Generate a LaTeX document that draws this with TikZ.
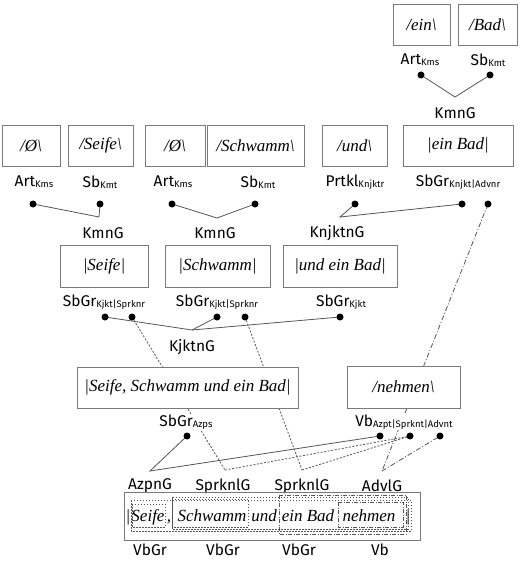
\documentclass[tikz,border=0pt]{standalone}
\usepackage{fontspec}
\setmainfont{Liberation Serif}
\setsansfont{Fira Sans}
\usetikzlibrary{backgrounds}
\definecolor{framegray}{HTML}{7A7A7A}
\definecolor{linkgray}{HTML}{555555}
% category label with a small subscript
\newcommand\catlab[2]{#1\raisebox{-0.8pt}{\fontsize{9.5}{10}\selectfont #2}}
\begin{document}
\begin{tikzpicture}[x=1pt,y=-1pt,
  wbox/.style={draw=framegray,line width=0.9pt,fill=white,minimum height=41,inner sep=0pt,
    font=\itshape\fontsize{17}{20}\selectfont},
  cat/.style={fill=white,inner sep=1pt,font=\sffamily\fontsize{15.5}{17}\selectfont},
  grp/.style={inner sep=1pt,font=\sffamily\fontsize{15.5}{17}\selectfont},
  dot/.style={circle,fill=black,inner sep=0pt,minimum size=7pt},
  link/.style={draw=linkgray,line width=0.8pt},
  dlink/.style={draw=linkgray,line width=0.8pt,dash pattern=on 2pt off 1.6pt},
  ddlink/.style={draw=linkgray,line width=0.8pt,dash pattern=on 5pt off 2pt on 1pt off 2pt},
  word/.style={inner sep=0pt,anchor=base,font=\itshape\fontsize{17}{20}\selectfont},
  fdot/.style={draw=linkgray,line width=0.6pt,dash pattern=on 1.5pt off 1.5pt},
  fdash/.style={draw=linkgray,line width=0.6pt,dash pattern=on 4pt off 1.5pt on 1pt off 1.5pt},
]
\useasboundingbox (0,0) rectangle (521,561);

% ---- top: ein Bad
\node[wbox,minimum width=57] (ein) at (421.5,25) {/ein\textbackslash};
\node[wbox,minimum width=59] (bad) at (487.5,25) {/Bad\textbackslash};
\node[cat] (lein) at (420,60) {\catlab{Art}{Kms}};
\node[cat] (lbad) at (488,60) {\catlab{Sb}{Kmt}};
\node[dot] (pein) at (421,75) {};
\node[dot] (pbad) at (490,75) {};
\coordinate (j0) at (455,97);
\node[grp] (g0) at (455,113) {KmnG};

% ---- second row
\node[wbox,minimum width=58] (b1) at (31,145.5) {/Ø\textbackslash};
\node[wbox,minimum width=65] (b2) at (100.5,145.5) {/Seife\textbackslash};
\node[wbox,minimum width=60] (b3) at (175,145.5) {/Ø\textbackslash};
\node[wbox,minimum width=97] (b4) at (255.5,145.5) {/Schwamm\textbackslash};
\node[wbox,minimum width=65] (b5) at (354.5,145.5) {/und\textbackslash};
\node[wbox,minimum width=110] (b6) at (458,145.5) {|ein Bad|};
\node[cat] (l1) at (34,182) {\catlab{Art}{Kms}};
\node[cat] (l2) at (100,182) {\catlab{Sb}{Kmt}};
\node[cat] (l3) at (173,182) {\catlab{Art}{Kms}};
\node[cat] (l4) at (258,182) {\catlab{Sb}{Kmt}};
\node[cat] (l5) at (355,182) {\catlab{Prtkl}{Knjktr}};
\node[cat] (l6) at (458,182) {\catlab{SbGr}{Knjkt|Advnr}};
\node[dot] (p1) at (33,204) {};
\node[dot] (p2) at (100,204) {};
\node[dot] (p3) at (172,204) {};
\node[dot] (p4) at (255,204) {};
\node[dot] (p5) at (355,204) {};
\node[dot] (p6) at (462,204) {};
\node[dot] (p7) at (488,204) {};
\coordinate (k1) at (99,217);
\coordinate (k2) at (217,218);
\coordinate (k3) at (340,217);
\node[grp] (gk1) at (103,233) {KmnG};
\node[grp] (gk2) at (215,233) {KmnG};
\node[grp] (gk3) at (337,233) {KnjktnG};

% ---- third row
\node[wbox,minimum width=88,minimum height=42] (c1) at (104,266) {|Seife|};
\node[wbox,minimum width=105,minimum height=42] (c2) at (217.5,266) {|Schwamm|};
\node[wbox,minimum width=114,minimum height=42] (c3) at (340,266) {|und ein Bad|};
\node[cat] (m1) at (104,302) {\catlab{SbGr}{Kjkt|Sprknr}};
\node[cat] (m2) at (217,302) {\catlab{SbGr}{Kjkt|Sprknr}};
\node[cat] (m3) at (341,302) {\catlab{SbGr}{Kjkt}};
\node[dot] (q1) at (105,317) {};
\node[dot] (q2) at (132,317) {};
\node[dot] (q3) at (217,317) {};
\node[dot] (q4) at (245,317) {};
\node[dot] (q5) at (340,317) {};
\coordinate (k4) at (192,330);
\node[grp] (gk4) at (192,347) {KjktnG};

% ---- fourth row
\node[wbox,minimum width=221] (d1) at (187.5,387.5) {|Seife, Schwamm und ein Bad|};
\node[wbox,minimum width=113,minimum height=42] (d2) at (403.5,387) {/nehmen\textbackslash};
\node[cat] (n1) at (186,422) {\catlab{SbGr}{Azps}};
\node[cat] (n2) at (404,422) {\catlab{Vb}{Azpt|Sprknt|Advnt}};
\node[dot] (r1) at (187,436) {};
\node[dot] (r2) at (380,436) {};
\node[dot] (r3) at (410,436) {};
\node[dot] (r4) at (440,436) {};
\coordinate (h1) at (150,471);
\coordinate (h2) at (225,470);
\coordinate (h3) at (302,470);
\coordinate (h4) at (382,471);
\node[grp] (gh1) at (150,486) {AzpnG};
\node[grp] (gh2) at (223,486) {SprknlG};
\node[grp] (gh3) at (302,486) {SprknlG};
\node[grp] (gh4) at (382,486) {AdvlG};

% ---- bottom: the whole phrase
\node[draw=framegray,line width=0.9pt,minimum width=296,minimum height=48,inner sep=0pt] (e) at (272,516) {};
\node[word] (w0) at (128,521) {|};
\node[word] (w1) at (148,521) {Seife};
\node[word] (w2) at (169,521) {,};
\node[word] (w3) at (212,521) {Schwamm};
\node[word] (w4) at (264,521) {und};
\node[word] (w5) at (308,521) {ein Bad};
\node[word] (w6) at (369,521) {nehmen};
\node[word] (w7) at (408,521) {|};
\draw[fdot] (131,500) rectangle (411,531);
\draw[fdot] (172,497) rectangle (408,529);
\draw[fdot] (172,499) rectangle (248,527);
\draw[fdot] (132,504) rectangle (165,527);
\draw[fdash] (279,495) rectangle (406,534);
\draw[fdash] (338,502) rectangle (403,527);
\node[grp] (v1) at (150,550) {VbGr};
\node[grp] (v2) at (223,550) {VbGr};
\node[grp] (v3) at (299,550) {VbGr};
\node[grp] (v4) at (380,550) {Vb};

% ---- connectors, kept behind boxes and labels
\begin{pgfonlayer}{background}
\draw[link] (pein.center) -- (j0) -- (pbad.center);
\draw[link] (p1.center) -- (k1) -- (p2.center);
\draw[link] (p3.center) -- (k2) -- (p4.center);
\draw[link] (p5.center) -- (k3) -- (p6.center);
\draw[ddlink] (p7.center) -- (h4);
\draw[link] (q1.center) -- (k4) -- (q3.center);
\draw[link] (k4) -- (q5.center);
\draw[dlink] (q2.center) -- (h2);
\draw[dlink] (q4.center) -- (h3);
\draw[link] (r1.center) -- (h1) -- (r2.center);
\draw[dlink] (h2) -- (r3.center);
\draw[dlink] (h3) -- (r3.center);
\draw[ddlink] (h4) -- (r4.center);
\end{pgfonlayer}
\end{tikzpicture}
\end{document}
